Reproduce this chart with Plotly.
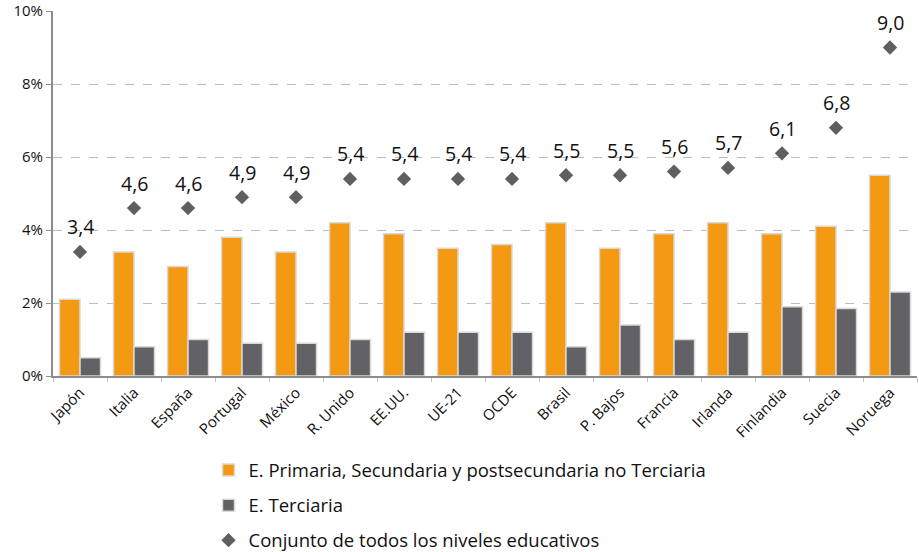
import plotly.graph_objects as go

categories = ["Japón", "Italia", "España", "Portugal", "México", "R. Unido", "EE.UU.", "UE-21",
              "OCDE", "Brasil", "P. Bajos", "Francia", "Irlanda", "Finlandia", "Suecia", "Noruega"]
primaria = [2.1, 3.4, 3.0, 3.8, 3.4, 4.2, 3.9, 3.5, 3.6, 4.2, 3.5, 3.9, 4.2, 3.9, 4.1, 5.5]
terciaria = [0.5, 0.8, 1.0, 0.9, 0.9, 1.0, 1.2, 1.2, 1.2, 0.8, 1.4, 1.0, 1.2, 1.9, 1.85, 2.3]
conjunto = [3.4, 4.6, 4.6, 4.9, 4.9, 5.4, 5.4, 5.4, 5.4, 5.5, 5.5, 5.6, 5.7, 6.1, 6.8, 9.0]
y_ticks = [0, 2, 4, 6, 8, 10]
y_tick_labels = [f"{v}%" for v in y_ticks]

FONT = "Open Sans"
labels = [f"{v:.1f}".replace(".", ",") for v in conjunto]

fig = go.Figure()
fig.add_trace(go.Bar(
    x=categories, y=primaria, name="E. Primaria, Secundaria y postsecundaria no Terciaria",
    marker=dict(color="#F39A12", line=dict(color="#D9D9D9", width=1.5)),
    legendgroup="a"))
fig.add_trace(go.Bar(
    x=categories, y=terciaria, name="E. Terciaria",
    marker=dict(color="#616166", line=dict(color="#D9D9D9", width=1.5)),
    legendgroup="b"))
fig.add_trace(go.Scatter(
    x=categories, y=conjunto, mode="markers", name="Conjunto de todos los niveles educativos",
    marker=dict(symbol="diamond", size=11, color="#5F5F63"),
    legendgroup="c"))

for c, v, t in zip(categories, conjunto, labels):
    fig.add_annotation(x=c, y=v, text=t, showarrow=False, yshift=25,
                       font=dict(family=FONT, size=19.5, color="#111111"))

fig.update_layout(
    width=919, height=552,
    margin=dict(l=53, r=2, t=11, b=176, autoexpand=False),
    plot_bgcolor="white", paper_bgcolor="white",
    barmode="group", bargap=0.24, bargroupgap=0.0,
    font=dict(family=FONT, color="#111111"),
    showlegend=True,
    legend=dict(x=0.18, xanchor="left", y=-0.207, yanchor="top",
                font=dict(family=FONT, size=18.5, color="#111111"),
                tracegroupgap=8, itemwidth=30, bgcolor="rgba(0,0,0,0)"),
)
fig.update_xaxes(
    automargin=False, range=[-0.5, len(categories) - 0.5],
    showline=True, linecolor="#8C8C8C", linewidth=2,
    ticks="outside", tickson="boundaries", ticklen=4, tickcolor="#BFBFBF",
    tickangle=-45, tickfont=dict(family=FONT, size=15, color="#111111"),
    showgrid=False)
fig.update_yaxes(
    automargin=False,
    range=[0, 10], tickvals=y_ticks, ticktext=y_tick_labels,
    showline=True, linecolor="#8C8C8C", linewidth=2,
    ticks="outside", ticklen=5, tickcolor="#8C8C8C",
    tickfont=dict(family=FONT, size=15, color="#111111"),
    showgrid=True, gridcolor="#BDBDBD", griddash="dash", gridwidth=1,
    zeroline=False)

fig.write_html("out.html")
